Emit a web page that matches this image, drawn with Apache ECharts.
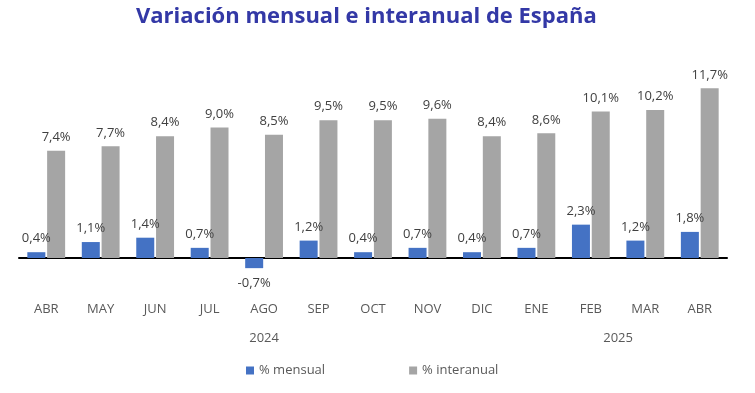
<!DOCTYPE html>
<html><head><meta charset="utf-8">
<script src="https://cdn.jsdelivr.net/npm/echarts@6/dist/echarts.min.js"></script>
<style>html,body{margin:0;padding:0;background:#fff}#c{width:755px;height:393px}</style>
</head><body><div id="c"></div>
<script>
const categories = ['ABR','MAY','JUN','JUL','AGO','SEP','OCT','NOV','DIC','ENE','FEB','MAR','ABR'];
const mensual = [0.4,1.1,1.4,0.7,-0.7,1.2,0.4,0.7,0.4,0.7,2.3,1.2,1.8];
const interanual = [7.4,7.7,8.4,9.0,8.5,9.5,9.5,9.6,8.4,8.6,10.1,10.2,11.7];
const years = [{label:'2024', from:4, to:4},{label:'2025', from:10, to:11}];

const fmt = p => p.value.toFixed(1).replace('.',',') + '%';
const font = '"Open Sans", sans-serif';
const chart = echarts.init(document.getElementById('c'));
chart.setOption({
  animation:false,
  title:{text:'Variación mensual e interanual de España', left:131, top:1,
    textStyle:{fontFamily:font, fontWeight:'bold', fontSize:22, color:'#3338A6'}},
  legend:{bottom:11, left:241, itemWidth:8, itemHeight:8, itemGap:84, icon:'rect',
    textStyle:{fontFamily:font, fontSize:13, color:'#595959'},
    data:['% mensual','% interanual']},
  grid:{left:19, right:28, top:55, height:232},
  xAxis:{type:'category', data:categories,
    axisLine:{onZero:true, lineStyle:{color:'#000', width:2}},
    axisTick:{show:false},
    axisLabel:{margin:16, fontFamily:font, fontSize:13, color:'#595959'}},
  yAxis:{type:'value', min:-2, max:14, show:false, splitLine:{show:false}},
  series:[
    {name:'% mensual', type:'bar', barWidth:18, barGap:'10%',
      data:mensual.map(v=>v<0?{value:v,label:{position:'bottom',distance:9}}:v),
      itemStyle:{color:'#4472C4'},
      label:{show:true, position:'top', distance:7, formatter:fmt, fontFamily:font, fontSize:13, color:'#404040'}},
    {name:'% interanual', type:'bar', data:interanual, barWidth:18,
      itemStyle:{color:'#A5A5A5'},
      label:{show:true, position:'top', distance:7, formatter:fmt, fontFamily:font, fontSize:13, color:'#404040'}}
  ]
});
const gfx = years.map(y=>{
  const a = chart.convertToPixel({xAxisIndex:0}, y.from);
  const b = chart.convertToPixel({xAxisIndex:0}, y.to);
  return {type:'text', x:(a+b)/2, y:338, style:{text:y.label, fontFamily:font, fontSize:13, fill:'#595959', align:'center', verticalAlign:'middle'}};
});
chart.setOption({graphic:gfx});
</script></body></html>
